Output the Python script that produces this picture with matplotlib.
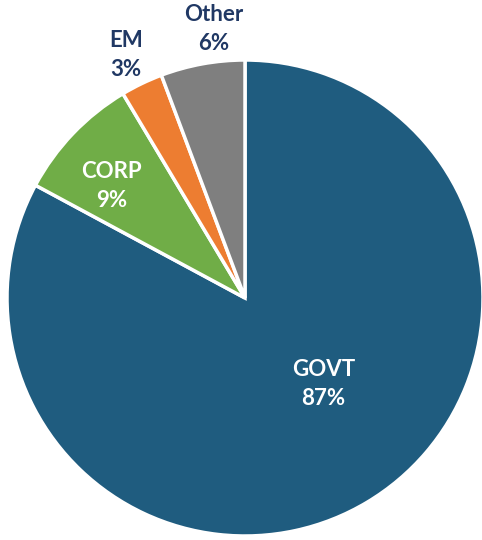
import matplotlib
matplotlib.use("Agg")
import matplotlib.pyplot as plt

categories = ["GOVT", "CORP", "EM", "Other"]
values = [87, 9, 3, 6]
pct_labels = ["87%", "9%", "3%", "6%"]
colors = ["#1F5C7F", "#70AD47", "#ED7D31", "#7F7F7F"]
text_colors = ["white", "white", "#203864", "#203864"]
label_pos = [(0.33, -0.36), (-0.56, 0.47), (-0.50, 1.02), (-0.13, 1.13)]

plt.rcParams['font.family'] = ['Lato', 'DejaVu Sans']

fig = plt.figure(figsize=(4.82, 5.40), dpi=100)
W, H = 482, 540
cx, cy, r = 245, 298, 238
ax = fig.add_axes([(cx - r) / W, (H - cy - r) / H, 2 * r / W, 2 * r / H])
ax.pie(values, colors=colors, startangle=90, counterclock=False, radius=1,
       wedgeprops=dict(edgecolor="white", linewidth=2.5))
ax.set_xlim(-1, 1)
ax.set_ylim(-1, 1)
ax.set_aspect("auto")
ax.axis("off")

for cat, p, c, (x, y) in zip(categories, pct_labels, text_colors, label_pos):
    ax.text(x, y, f"{cat}\n{p}", ha="center", va="center", color=c,
            fontsize=16, fontweight="bold", linespacing=1.45, clip_on=False)

fig.savefig("out.png", dpi=100)
